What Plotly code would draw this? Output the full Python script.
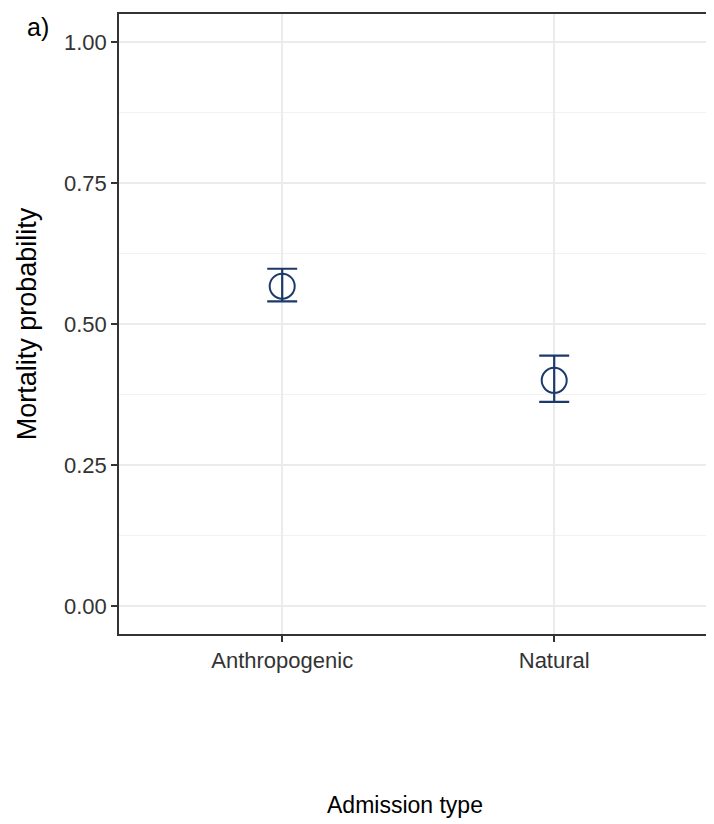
import plotly.graph_objects as go

categories = ["Anthropogenic", "Natural"]
mortality = [0.567, 0.400]
upper = [0.598, 0.444]
lower = [0.540, 0.362]

y_ticks = [0.0, 0.25, 0.5, 0.75, 1.0]
y_ticktext = ["0.00", "0.25", "0.50", "0.75", "1.00"]

navy = "#1B3A6B"
font_family = "Liberation Sans, Arial, sans-serif"

# page body adds an 8px offset; compensate in the figure geometry
L, T, PW, PH = 111, 6, 595, 620

fig = go.Figure()
fig.add_trace(go.Scatter(
    x=categories, y=mortality, mode="markers",
    marker=dict(symbol="circle-open", size=25, color=navy, line=dict(width=2, color=navy)),
    error_y=dict(type="data", symmetric=False,
                 array=[u - m for u, m in zip(upper, mortality)],
                 arrayminus=[m - l for m, l in zip(mortality, lower)],
                 color=navy, thickness=2.2, width=15),
    showlegend=False,
))

fig.update_layout(
    width=L + PW, height=T + PH + 190,
    margin=dict(l=L, r=0, t=T, b=190),
    paper_bgcolor="white", plot_bgcolor="white",
    font=dict(family=font_family, color="black"),
    xaxis=dict(
        type="category", range=[-0.6, 1.5875],
        showgrid=True, gridcolor="#EBEBEB", gridwidth=1.5,
        showline=True, linecolor="#333333", linewidth=1.5, mirror=True,
        ticks="outside", ticklen=6, tickwidth=1.5, tickcolor="#333333",
        tickfont=dict(size=22, color="#333333"),
        zeroline=False,
    ),
    yaxis=dict(
        range=[-0.05, 1.05],
        tickvals=y_ticks, ticktext=y_ticktext,
        showgrid=True, gridcolor="#EBEBEB", gridwidth=1.5,
        minor=dict(tick0=0.125, dtick=0.25, showgrid=True, gridcolor="#F2F2F2", gridwidth=1, ticks=""),
        showline=True, linecolor="#333333", linewidth=1.5, mirror=False,
        ticks="outside", ticklen=6, tickwidth=1.5, tickcolor="#333333",
        tickfont=dict(size=22, color="#333333"),
        title=dict(text="Mortality probability", font=dict(size=27, color="black"), standoff=20),
        zeroline=False,
    ),
    annotations=[
        dict(text="a)", x=(30 - L) / PW, y=1 - (19 - T) / PH,
             xref="paper", yref="paper", xanchor="center", yanchor="middle",
             showarrow=False, font=dict(size=25, color="black")),
        dict(text="Admission type", x=(397 - L) / PW, y=1 - (797 - T) / PH,
             xref="paper", yref="paper", xanchor="center", yanchor="middle",
             showarrow=False, font=dict(size=23, color="black")),
    ],
)

fig.write_html("out.html")
